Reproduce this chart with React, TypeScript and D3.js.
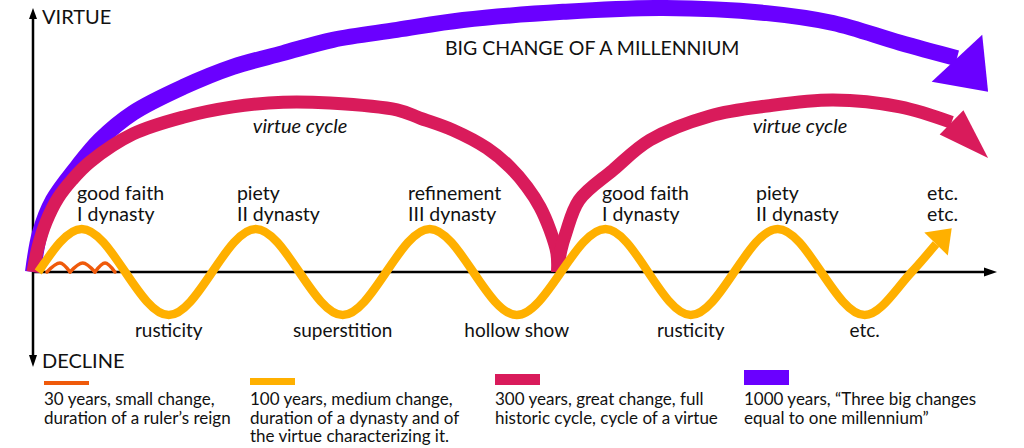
import React from 'react';
import * as d3 from 'd3';

const W = 1024;
const H = 448;

// x: years from the start, y: virtue level (1 unit = height of a dynasty cycle)
const dynastyWave: [number, number][] = [
  [3, 0], [28, 1], [78, -1], [128, 1], [178, -1], [228, 1], [278, -1],
  [329, 1], [378, -1], [428, 1], [478, -1], [505, 0], [519, 0.65],
];
const dynastyTip: [number, number] = [528, 1.02];

const reignHumps: [number, number][][] = [
  [[8, 0], [15.5, 0.21], [21.3, 0]],
  [[21.3, 0], [28.6, 0.21], [35.6, 0]],
  [[35.6, 0], [41.4, 0.21], [47.1, 0]],
];

const virtueCycle1: [number, number][] = [
  [0, 0], [2.9, 0.58], [7.5, 1.16], [14.4, 1.72], [22.4, 2.14], [32.8, 2.56],
  [57.5, 3.21], [86.2, 3.6], [114.9, 3.84], [143.7, 3.95], [170.7, 3.93],
  [209.2, 3.77], [222.4, 3.58], [241.4, 3.3], [260.9, 2.88], [274.1, 2.44],
  [283.9, 1.98], [291.4, 1.51], [297.1, 0.98], [301.1, 0.44], [301.5, 0],
];
const virtueCycle2: [number, number][] = [
  [301.5, 0], [303.4, 0.51], [306.3, 0.91], [313.8, 1.67], [333.3, 2.37], [354.6, 3.07],
  [389.1, 3.63], [421.8, 3.86], [459.8, 4.0], [498.3, 3.84], [527.9, 3.48],
];
const virtueTip: [number, number] = [548.9, 2.65];

const millennium: [number, number][] = [
  [0, 0], [4.0, 0.91], [11.5, 1.67], [25.3, 2.44], [38.5, 3.07], [57.5, 3.7],
  [86.2, 4.3], [114.9, 4.77], [143.7, 5.09], [172.4, 5.4], [209.2, 5.63],
  [247.1, 5.86], [304.6, 6.05], [362.1, 6.14], [421.8, 6.02], [459.8, 5.79],
  [498.3, 5.33], [531.0, 4.97],
];
const millenniumTip: [number, number] = [548.9, 4.19];

const peakLabels: { year: number; lines: string[] }[] = [
  { year: 25.3, lines: ['good faith', 'I dynasty'] },
  { year: 117.2, lines: ['piety', 'II dynasty'] },
  { year: 215.5, lines: ['refinement', 'III dynasty'] },
  { year: 327, lines: ['good faith', 'I dynasty'] },
  { year: 415.5, lines: ['piety', 'II dynasty'] },
  { year: 513.8, lines: ['etc.', 'etc.'] },
];
const troughLabels: { year: number; text: string }[] = [
  { year: 78, text: 'rusticity' },
  { year: 178, text: 'superstition' },
  { year: 278, text: 'hollow show' },
  { year: 378, text: 'rusticity' },
  { year: 478, text: 'etc.' },
];
const cycleLabels: { year: number; text: string }[] = [
  { year: 153.5, text: 'virtue cycle' },
  { year: 440.8, text: 'virtue cycle' },
];

const legendItems: { key: string; lines: string[] }[] = [
  { key: 'reign', lines: ['30 years, small change,', 'duration of a ruler\u2019s reign'] },
  { key: 'dynasty', lines: ['100 years, medium change,', 'duration of a dynasty and of', 'the virtue characterizing it.'] },
  { key: 'cycle', lines: ['300 years, great change, full', 'historic cycle, cycle of a virtue'] },
  { key: 'millennium', lines: ['1000 years, \u201cThree big changes', 'equal to one millennium\u201d'] },
];

const COLORS: Record<string, string> = {
  reign: '#EF5A0B',
  dynasty: '#FFB000',
  cycle: '#D91B5B',
  millennium: '#6A00FF',
};
const WIDTHS: Record<string, number> = { reign: 3.5, dynasty: 8.5, cycle: 13, millennium: 16 };
const LEGEND_H: Record<string, number> = { reign: 4, dynasty: 7, cycle: 11, millennium: 15 };
const LEGEND_X = [44, 250, 495, 744];

const FONT = 'Lato, "Open Sans", sans-serif';

export default function App() {
  const x = d3.scaleLinear().domain([0, 100]).range([33, 207]);
  const y = d3.scaleLinear().domain([0, 1]).range([272, 229]);

  const wave = d3.line<[number, number]>().x((d) => x(d[0])).y((d) => y(d[1])).curve(d3.curveMonotoneX);
  const arc = d3.line<[number, number]>().x((d) => x(d[0])).y((d) => y(d[1])).curve(d3.curveCatmullRom.alpha(0.5));

  const pxHead = (bx: number, by: number, tx: number, ty: number, half: number) => {
    const len = Math.hypot(tx - bx, ty - by);
    const nx = -(ty - by) / len, ny = (tx - bx) / len;
    return `M${bx + nx * half},${by + ny * half}L${tx},${ty}L${bx - nx * half},${by - ny * half}Z`;
  };
  const head = (base: [number, number], tip: [number, number], half: number) =>
    pxHead(x(base[0]), y(base[1]), x(tip[0]), y(tip[1]), half);

  const x0 = x(0);
  const y0 = y(0);

  return (
    <svg width={W} height={H} style={{ position: 'absolute', left: 0, top: 0, background: '#fff' }} fontFamily={FONT}>
      {/* axes */}
      <line x1={x0} y1={18} x2={x0} y2={356} stroke="#000" strokeWidth={2.5} />
      <path d={pxHead(x0, 19, x0, 8, 4)} fill="#000" />
      <path d={pxHead(x0, 355, x0, 367, 4)} fill="#000" />
      <line x1={x0} y1={y0} x2={986} y2={y0} stroke="#000" strokeWidth={2.5} />
      <path d={pxHead(984, y0, 997, y0, 4.5)} fill="#000" />
      <text x={42} y={24} fontSize={20} fill="#111">VIRTUE</text>
      <text x={42} y={368} fontSize={20} fill="#111">DECLINE</text>

      {/* millennium */}
      <path d={arc(millennium) || ''} fill="none" stroke={COLORS.millennium} strokeWidth={WIDTHS.millennium} />
      <path d={head(millennium[millennium.length - 1], millenniumTip, 34.5)} fill={COLORS.millennium} />

      {/* virtue cycles */}
      <path d={arc(virtueCycle1) || ''} fill="none" stroke={COLORS.cycle} strokeWidth={WIDTHS.cycle} />
      <path d={arc(virtueCycle2) || ''} fill="none" stroke={COLORS.cycle} strokeWidth={WIDTHS.cycle} />
      <path d={head(virtueCycle2[virtueCycle2.length - 1], virtueTip, 17)} fill={COLORS.cycle} />

      {/* dynasty wave */}
      <path d={wave(dynastyWave) || ''} fill="none" stroke={COLORS.dynasty} strokeWidth={WIDTHS.dynasty} />
      <path d={head(dynastyWave[dynastyWave.length - 1], dynastyTip, 16.5)} fill={COLORS.dynasty} />

      {/* reigns */}
      {reignHumps.map((h, i) => (
        <path key={i} d={wave(h) || ''} fill="none" stroke={COLORS.reign} strokeWidth={WIDTHS.reign} strokeLinecap="round" />
      ))}

      {/* labels */}
      <text x={445} y={55} fontSize={19.5} fill="#111">BIG CHANGE OF A MILLENNIUM</text>
      {cycleLabels.map((c, i) => (
        <text key={i} x={x(c.year)} y={133} fontSize={20} fontStyle="italic" textAnchor="middle" fill="#111">{c.text}</text>
      ))}
      {peakLabels.map((p, i) => (
        <text key={i} fontSize={19.5} fill="#111">
          {p.lines.map((l, j) => (
            <tspan key={j} x={x(p.year)} y={200 + j * 21}>{l}</tspan>
          ))}
        </text>
      ))}
      {troughLabels.map((t, i) => (
        <text key={i} x={x(t.year)} y={337} fontSize={19} textAnchor="middle" fill="#111">{t.text}</text>
      ))}

      {/* legend */}
      {legendItems.map((it, i) => (
        <g key={it.key}>
          <rect x={LEGEND_X[i]} y={385 - LEGEND_H[it.key]} width={45} height={LEGEND_H[it.key]} fill={COLORS[it.key]} />
          <text fontSize={17} fill="#111">
            {it.lines.map((l, j) => (
              <tspan key={j} x={LEGEND_X[i]} y={405 + j * 18.5}>{l}</tspan>
            ))}
          </text>
        </g>
      ))}
    </svg>
  );
}
